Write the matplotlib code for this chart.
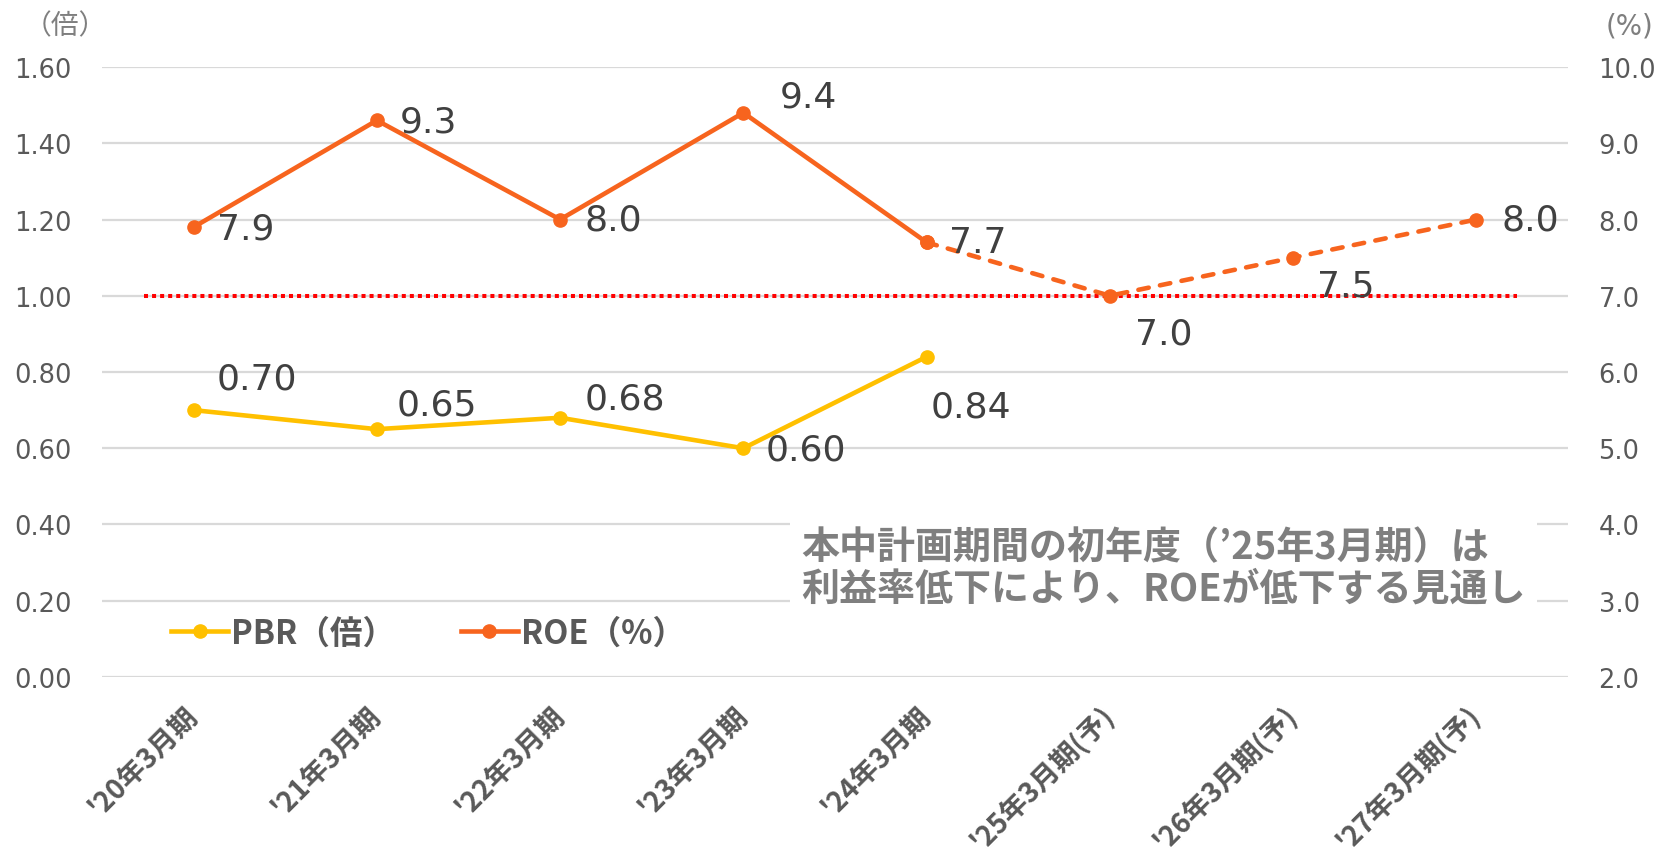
import matplotlib
matplotlib.use("Agg")
import matplotlib.pyplot as plt
from matplotlib.ticker import FixedLocator, FormatStrFormatter
from matplotlib.lines import Line2D

# ---------------- data ----------------
categories = ["'20年3月期", "'21年3月期", "'22年3月期", "'23年3月期", "'24年3月期",
              "'25年3月期(予)", "'26年3月期(予)", "'27年3月期(予)"]
pbr = [0.70, 0.65, 0.68, 0.60, 0.84]
roe = [7.9, 9.3, 8.0, 9.4, 7.7, 7.0, 7.5, 8.0]
n_actual = 5            # ROE actual (solid) for first 5, forecast (dashed) after
pbr_labels = ["0.70", "0.65", "0.68", "0.60", "0.84"]
roe_labels = ["7.9", "9.3", "8.0", "9.4", "7.7", "7.0", "7.5", "8.0"]
ref_pbr = 1.00
left_ticks = [0.00, 0.20, 0.40, 0.60, 0.80, 1.00, 1.20, 1.40, 1.60]
right_ticks = [2.0, 3.0, 4.0, 5.0, 6.0, 7.0, 8.0, 9.0, 10.0]
legend_pbr = "PBR（倍）"
legend_roe = "ROE（%）"
unit_left = "（倍）"
unit_right = "(%)"
note_lines = ["本中計画期間の初年度（’25年3月期）は", "利益率低下により、ROEが低下する見通し"]

# ---------------- style ----------------
C_PBR = "#FFC000"
C_ROE = "#F7641E"
C_TICK = "#595959"
C_LABEL = "#404040"
C_GRID = "#D9D9D9"
CJK = ["Noto Sans CJK JP", "DejaVu Sans"]
LW = 3.3
MS = 9.5
# label offsets in points (dx, dy)
pbr_off = [(16.8, 23), (14.5, 18), (17.5, 13.5), (16, -1), (3, -36)]
roe_off = [(16.8, -1), (16.8, -1), (17.5, 0), (26, 12), (16, 0), (18.3, -27), (17.5, -20), (18.3, 0)]

fig = plt.figure(figsize=(16.59, 8.53), dpi=100)
ax = fig.add_axes([0.06148, 0.20516, 0.88367, 0.71512])
ax2 = ax.twinx()

x = list(range(len(categories)))

# grid
ax.set_ylim(0, 1.6)
ax.yaxis.set_major_locator(FixedLocator(left_ticks))
ax.yaxis.set_major_formatter(FormatStrFormatter("%.2f"))
ax.grid(axis="y", color=C_GRID, linewidth=1.6)
ax.set_axisbelow(True)
ax.set_xlim(-0.5, len(categories) - 0.5)

ax2.set_ylim(2, 10)
ax2.yaxis.set_major_locator(FixedLocator(right_ticks))
ax2.yaxis.set_major_formatter(FormatStrFormatter("%.1f"))

for a in (ax, ax2):
    for s in a.spines.values():
        s.set_visible(False)
    a.tick_params(length=0)

ax.tick_params(axis="y", labelsize=18.5, labelcolor=C_TICK, pad=22)
ax2.tick_params(axis="y", labelsize=18.5, labelcolor=C_TICK, pad=22)
for t in ax.get_yticklabels() + ax2.get_yticklabels():
    t.set_fontfamily("DejaVu Sans")

ax.set_xticks(x)
ax.set_xticklabels(categories, rotation=45, ha="right", va="center",
                   rotation_mode="anchor", fontsize=20, fontweight="bold",
                   color=C_TICK, family=CJK)
ax.tick_params(axis="x", pad=24)

# reference dotted line at PBR 1.0
ax.hlines(ref_pbr, -0.27, 7.22, colors="#FF0000", linestyles=(0, (1, 1)),
          linewidth=2.9, capstyle="butt", zorder=2)

# PBR
xp = x[:len(pbr)]
ax.plot(xp, pbr, color=C_PBR, linewidth=LW, marker="o", markersize=MS, zorder=3)
for xi, v, lab, (dx, dy) in zip(xp, pbr, pbr_labels, pbr_off):
    ax.annotate(lab, (xi, v), xytext=(dx, dy), textcoords="offset points",
                ha="left", va="center", fontsize=26, color=C_LABEL, family="DejaVu Sans")

# ROE
ax2.plot(x[:n_actual], roe[:n_actual], color=C_ROE, linewidth=LW, marker="o",
         markersize=MS, zorder=3)
ax2.plot(x[n_actual - 1:], roe[n_actual - 1:], color=C_ROE, linewidth=LW, marker="o",
         markersize=MS, dashes=(2.3, 2.5), dash_capstyle="round", zorder=3)
for xi, v, lab, (dx, dy) in zip(x, roe, roe_labels, roe_off):
    ax2.annotate(lab, (xi, v), xytext=(dx, dy), textcoords="offset points",
                 ha="left", va="center", fontsize=26, color=C_LABEL, family="DejaVu Sans")

# legend
handles = [Line2D([], [], color=C_PBR, linewidth=LW, marker="o", markersize=MS),
           Line2D([], [], color=C_ROE, linewidth=LW, marker="o", markersize=MS)]
leg = ax2.legend(handles, [legend_pbr, legend_roe], ncol=2, frameon=False,
                 loc="center left", bbox_to_anchor=(0.027, 0.072),
                 prop={"family": CJK, "weight": "bold", "size": 23.5},
                 handlelength=1.75, handletextpad=0.1, columnspacing=2.0)
for t in leg.get_texts():
    t.set_color(C_TICK)

# unit labels
fig.text(0.0395, 0.969, unit_left, ha="center", va="center", fontsize=20,
         color="#7F7F7F", family=CJK)
fig.text(0.9825, 0.969, unit_right, ha="center", va="center", fontsize=20,
         color="#7F7F7F", family="DejaVu Sans")

# note
fig.text(0.4828, 1 - 568 / 853, "\n".join(note_lines), ha="left", va="center",
         fontsize=27.4, fontweight="bold", color="#7F7F7F", family=CJK,
         linespacing=1.08,
         bbox=dict(boxstyle="square,pad=0.3", facecolor="white", edgecolor="none"),
         zorder=5)

fig.savefig("out.png", dpi=100)
